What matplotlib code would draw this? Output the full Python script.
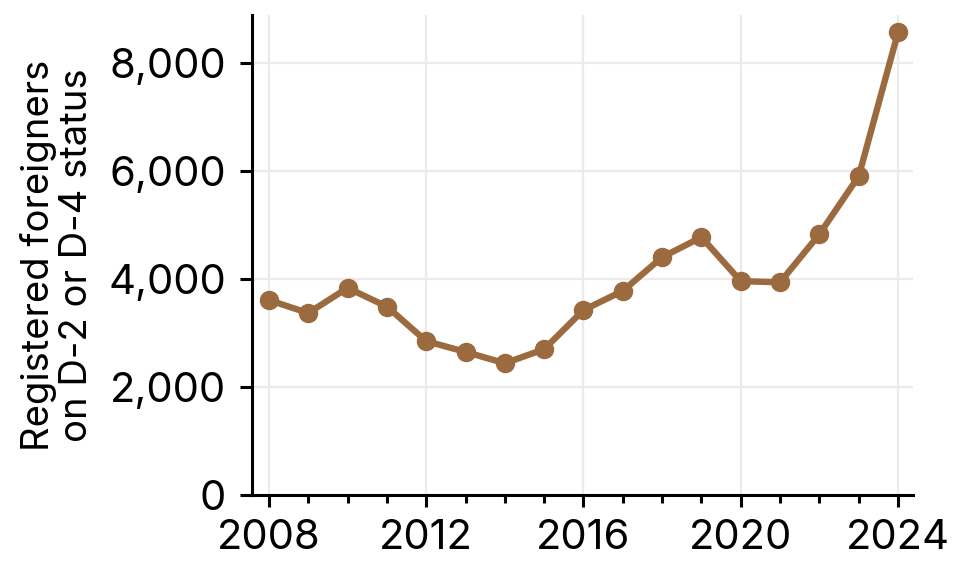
import matplotlib
matplotlib.use("Agg")
import matplotlib.pyplot as plt
from matplotlib.ticker import FuncFormatter, MultipleLocator

plt.rcParams['font.family'] = ['Inter', 'DejaVu Sans']

years = [2008, 2009, 2010, 2011, 2012, 2013, 2014, 2015, 2016,
         2017, 2018, 2019, 2020, 2021, 2022, 2023, 2024]
registered = [3610, 3370, 3835, 3490, 2850, 2650, 2440, 2700, 3425,
              3780, 4405, 4775, 3960, 3940, 4830, 5905, 8570]

line_color = "#9b6b3f"

fig = plt.figure(figsize=(9.62, 5.76), dpi=100)
ax = fig.add_axes([252 / 962, 1 - 495 / 576, (913 - 252) / 962, (495 - 15) / 576])

ax.plot(years, registered, color=line_color, linewidth=4.6,
        marker="o", markersize=13, zorder=3, clip_on=False)

ax.set_xlim(2007.57, 2024.38)
ax.set_ylim(0, 8890)

ax.xaxis.set_major_locator(MultipleLocator(4))
ax.xaxis.set_minor_locator(MultipleLocator(1))
ax.yaxis.set_major_locator(MultipleLocator(2000))
ax.yaxis.set_major_formatter(FuncFormatter(lambda v, p: f"{int(v):,}"))

ax.grid(True, which="major", color="#ebebeb", linewidth=1.6)
ax.set_axisbelow(True)

for side in ["top", "right"]:
    ax.spines[side].set_visible(False)
for side in ["left", "bottom"]:
    ax.spines[side].set_linewidth(2.2)

ax.tick_params(axis="both", which="major", labelsize=30, width=2.2, length=8.6)
ax.tick_params(axis="x", which="major", pad=9)
ax.tick_params(axis="y", which="major", pad=10)
ax.tick_params(axis="x", which="minor", width=2.2, length=5.5)

ax.set_ylabel("Registered foreigners\non D-2 or D-4 status", fontsize=27.5,
              labelpad=10, linespacing=1.05)

fig.savefig("out.png", dpi=100)
